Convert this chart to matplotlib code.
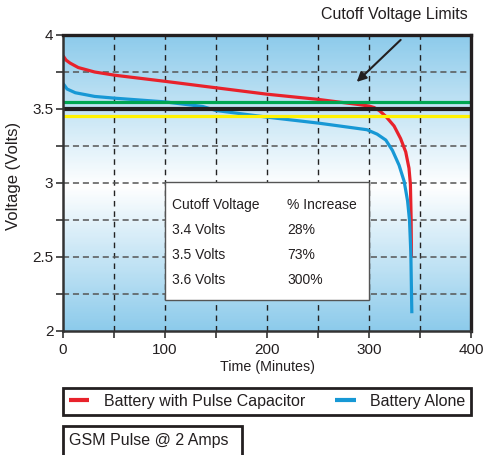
import numpy as np
import matplotlib
matplotlib.use("Agg")
import matplotlib.pyplot as plt
from matplotlib.colors import LinearSegmentedColormap
from matplotlib.patches import Rectangle

plt.rcParams['font.family'] = ['Liberation Sans', 'DejaVu Sans']

# discharge curves (minutes, volts)
t_cap = [0, 3, 7, 15, 31, 51, 100, 140, 200, 250, 290, 300, 305, 310, 316.5,
         324.6, 331, 336, 339.2, 340.6, 341.3, 341.6]
v_cap = [3.86, 3.83, 3.81, 3.78, 3.75, 3.728, 3.687, 3.652, 3.60, 3.565, 3.53,
         3.52, 3.51, 3.49, 3.45, 3.385, 3.30, 3.21, 3.10, 2.99, 2.76, 2.50]

t_alone = [0, 4, 12, 31, 51, 100, 137, 150, 200, 250, 298, 308, 316.5, 323,
           329.5, 334.5, 337.8, 339.7, 341, 342]
v_alone = [3.673, 3.635, 3.61, 3.585, 3.573, 3.548, 3.517, 3.49, 3.445, 3.405,
           3.36, 3.33, 3.29, 3.22, 3.12, 3.01, 2.88, 2.75, 2.53, 2.12]

# cutoff limit lines
v_green = 3.55
v_black = 3.50
v_yellow = 3.45

table_head = ["Cutoff Voltage", "% Increase"]
table_volts = ["3.4 Volts", "3.5 Volts", "3.6 Volts"]
table_incr = ["28%", "73%", "300%"]

fig = plt.figure(figsize=(4.83, 4.55), dpi=100)
W, H = 483, 455
ax = fig.add_axes([63 / W, 1 - 331 / H, 408 / W, 296 / H])

# background gradient: blue - white - blue
blue = (0.553, 0.796, 0.922)
cmap = LinearSegmentedColormap.from_list(
    "bg", [(0.0, blue), (0.49, (1, 1, 1)), (1.0, blue)])
grad = np.linspace(0, 1, 300).reshape(-1, 1)
ax.imshow(grad, extent=[0, 400, 2, 4], origin="lower", aspect="auto",
          cmap=cmap, zorder=0)

ax.set_xlim(0, 400)
ax.set_ylim(2, 4)

# grid
for x in range(50, 400, 50):
    ax.axvline(x, color="#222222", lw=1.0, ls=(0, (4, 3.5)), zorder=1)
for y in [2.25, 2.5, 2.75, 3.0, 3.25, 3.75]:
    ax.axhline(y, color="#555555", lw=1.1, ls=(0, (4, 2.5)), zorder=1)

l_cap, = ax.plot(t_cap, v_cap, color="#E8222B", lw=2.3, zorder=3,
                 solid_capstyle="butt")
l_alone, = ax.plot(t_alone, v_alone, color="#1798D5", lw=2.3, zorder=4,
                   solid_capstyle="butt")

ax.axhline(v_green, color="#00A651", lw=2.3, zorder=5)
ax.axhline(v_yellow, color="#FFF200", lw=2.3, zorder=5)
ax.axhline(v_black, color="#231F20", lw=3.0, zorder=5)

# table box
ax.add_patch(Rectangle((100, 2.21), 200, 0.80, facecolor="white",
                       edgecolor="#555555", lw=1.0, zorder=6))
ax.text(107, 2.854, table_head[0], fontsize=10, va="center", color="#231F20", zorder=7)
ax.text(220, 2.854, table_head[1], fontsize=10, va="center", color="#231F20", zorder=7)
for yy, a, b in zip([2.682, 2.514, 2.346], table_volts, table_incr):
    ax.text(107, yy, a, fontsize=10, va="center", color="#231F20", zorder=7)
    ax.text(220, yy, b, fontsize=10, va="center", color="#231F20", zorder=7)

# arrow and label
ax.annotate("", xy=(286, 3.67), xytext=(333, 3.98),
            arrowprops=dict(arrowstyle="-|>", lw=1.5, color="#231F20",
                            mutation_scale=14), zorder=8, annotation_clip=False)
fig.text(468 / W, 1 - 15 / H, "Cutoff Voltage Limits", fontsize=11.5,
         ha="right", va="center", color="#231F20")

# axes styling
for side in ["left", "bottom"]:
    ax.spines[side].set_linewidth(1.8)
    ax.spines[side].set_color("#333333")
for side in ["top", "right"]:
    ax.spines[side].set_linewidth(2.4)
    ax.spines[side].set_color("#231F20")
for s in ax.spines.values():
    s.set_zorder(9)

ax.set_xticks([0, 100, 200, 300, 400])
ax.set_xticks([50, 150, 250, 350], minor=True)
ax.set_yticks([2, 2.5, 3, 3.5, 4])
ax.set_yticklabels(["2", "2.5", "3", "3.5", "4"])
ax.set_yticks([2.25, 2.75, 3.25, 3.75], minor=True)
ax.tick_params(which="both", direction="out", length=5, width=1.2,
               color="#333333", labelsize=11, labelcolor="#231F20")
ax.tick_params(axis="y", pad=2)
ax.tick_params(axis="x", pad=4)

ax.set_xlabel("Time (Minutes)", fontsize=10.3, color="#231F20", labelpad=2)
ax.set_ylabel("Voltage (Volts)", fontsize=12, color="#231F20")
ax.yaxis.set_label_coords(-0.103, 0.524)

# legend box
leg = fig.legend([l_cap, l_alone], ["Battery with Pulse Capacitor", "Battery Alone"],
                 loc="center", bbox_to_anchor=(63 / W, 1 - 416 / H, 408 / W, 29 / H),
                 mode="expand", ncol=2, fontsize=11.5, handlelength=1.3,
                 handletextpad=0.9, borderaxespad=0, fancybox=False,
                 borderpad=0.35, framealpha=1)
leg.get_frame().set_edgecolor("#231F20")
leg.get_frame().set_linewidth(2.0)
for t in leg.get_texts():
    t.set_color("#231F20")
for h in leg.legend_handles:
    h.set_linewidth(3)

# GSM pulse box, cut by the bottom edge
fig.add_artist(Rectangle((63 / W, -0.05), (242 - 63) / W, 0.05 + 1 - 426 / H,
                         transform=fig.transFigure, fill=False,
                         edgecolor="#231F20", lw=2.0))
fig.text(69 / W, 1 - 441 / H, "GSM Pulse @ 2 Amps", fontsize=11.5,
         ha="left", va="center", color="#231F20")

fig.savefig("out.png", dpi=100)
